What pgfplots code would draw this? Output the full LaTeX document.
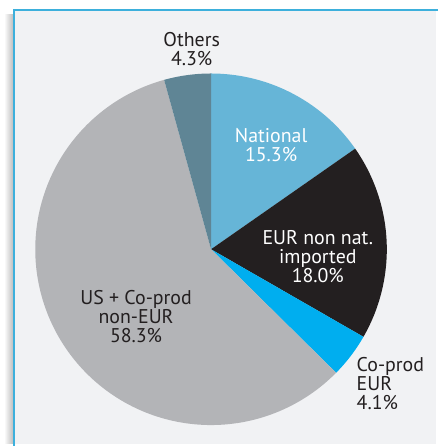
\documentclass[border=0pt]{standalone}
\usepackage{pgfplots}
\pgfplotsset{compat=1.18}
\usepackage{fontspec}
\setmainfont{PT Sans}
\definecolor{bgc}{HTML}{F1F2F4}
\definecolor{framec}{HTML}{3DB0DC}
\definecolor{natc}{HTML}{66B5D7}
\definecolor{blk}{HTML}{231F20}
\definecolor{cyn}{HTML}{00AEEF}
\definecolor{gry}{HTML}{B3B4B7}
\definecolor{oth}{HTML}{5F8595}
\definecolor{txt}{HTML}{231F20}
% pie values (percent), clockwise from 12 o'clock
\def\vNat{15.3}
\def\vEur{18.0}
\def\vCop{4.1}
\def\vUS{58.3}
\def\vOth{4.3}
\pgfmathsetmacro{\aA}{90}
\pgfmathsetmacro{\aB}{\aA-\vNat*3.6}
\pgfmathsetmacro{\aC}{\aB-\vEur*3.6}
\pgfmathsetmacro{\aD}{\aC-\vCop*3.6}
\pgfmathsetmacro{\aE}{\aD-\vUS*3.6}
\pgfmathsetmacro{\aF}{\aE-\vOth*3.6}
\def\cx{212.5}
\def\cy{196}
\def\rr{177}
\tikzset{lbl/.style={font=\fontsize{20}{19}\selectfont, align=center, inner sep=0pt}}
\begin{document}
\begin{tikzpicture}
\begin{axis}[scale only axis, width=439pt, height=447pt,
  xmin=0, xmax=439, ymin=0, ymax=447, hide axis, clip=false]
% frame
\fill[white] (axis cs:0,0) rectangle (axis cs:439,447);
\shade[left color=white, right color=black!25] (axis cs:4,0) rectangle (axis cs:13,432);
\fill[bgc] (axis cs:14,0) rectangle (axis cs:439,437);
\draw[framec, line width=2.2pt] (axis cs:14,-2) -- (axis cs:14,437) -- (axis cs:441,437);
% slices
\addplot[fill=natc, draw=none, domain=\aB:\aA, samples=60]
  ({\cx+\rr*cos(x)},{\cy+\rr*sin(x)}) -- (axis cs:\cx,\cy) -- cycle;
\addplot[fill=blk, draw=none, domain=\aC:\aB, samples=60]
  ({\cx+\rr*cos(x)},{\cy+\rr*sin(x)}) -- (axis cs:\cx,\cy) -- cycle;
\addplot[fill=cyn, draw=none, domain=\aD:\aC, samples=30]
  ({\cx+\rr*cos(x)},{\cy+\rr*sin(x)}) -- (axis cs:\cx,\cy) -- cycle;
\addplot[fill=gry, draw=none, domain=\aE:\aD, samples=150]
  ({\cx+\rr*cos(x)},{\cy+\rr*sin(x)}) -- (axis cs:\cx,\cy) -- cycle;
\addplot[fill=oth, draw=none, domain=\aF:\aE, samples=30]
  ({\cx+\rr*cos(x)},{\cy+\rr*sin(x)}) -- (axis cs:\cx,\cy) -- cycle;
% labels
\node[lbl, text=txt] at (axis cs:193,398) {Others\\4.3\%};
\node[lbl, text=white] at (axis cs:273,301) {National\\15.3\%};
\node[lbl, text=white] at (axis cs:320,189) {EUR non nat.\\imported\\18.0\%};
\node[lbl, text=txt, anchor=west, align=left] at (axis cs:359,61) {Co-prod\\EUR\\4.1\%};
\node[lbl, text=txt] at (axis cs:137,128) {US + Co-prod\\non-EUR\\58.3\%};
\end{axis}
\end{tikzpicture}
\end{document}
